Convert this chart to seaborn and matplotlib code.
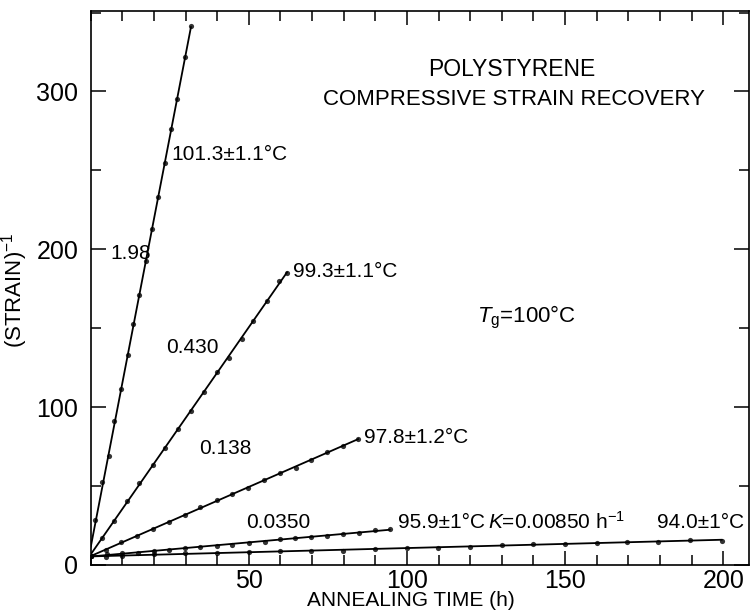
import numpy as np
import pandas as pd
import matplotlib
matplotlib.use("Agg")
import matplotlib.pyplot as plt
import seaborn as sns
from matplotlib.ticker import MultipleLocator

# ---- data ----
t_1013 = [0, 1.4, 3.5, 5.7, 7.5, 9.7, 11.8, 13.4, 15.4, 17.5, 19.5, 21.4, 23.6, 25.4, 27.3, 29.7, 31.7]
y_1013 = [5.9, 28.6, 52.5, 69.2, 91.2, 111.6, 133.1, 152.8, 170.8, 192.4, 212.7, 233.0, 254.6, 276.2, 295.2, 321.7, 341.4]

t_993 = [0, 3.5, 7.5, 11.5, 15.4, 19.6, 23.6, 27.5, 31.7, 35.8, 39.8, 43.8, 47.7, 51.4, 55.8, 59.6, 62.1]
y_993 = [5.9, 17.0, 28.1, 40.4, 51.9, 63.0, 74.3, 86.2, 97.6, 109.4, 122.1, 131.4, 143.3, 154.5, 167.0, 180.1, 185.2]

t_978 = [0, 4.7, 9.7, 14.7, 19.7, 24.7, 29.7, 34.7, 39.8, 44.7, 49.8, 54.7, 59.8, 64.8, 69.8, 74.6, 79.7, 84.6]
y_978 = [5.9, 9.5, 14.2, 18.0, 23.0, 27.1, 31.4, 36.4, 40.8, 44.6, 48.9, 53.8, 58.2, 61.4, 66.7, 71.3, 75.6, 79.8]

t_959 = [0, 5, 10, 14.9, 19.9, 24.9, 29.8, 34.7, 40, 44.6, 49.9, 55, 60, 64.6, 69.8, 74.6, 79.8, 84.9, 89.9, 94.6]
y_959 = [5.9, 6.6, 7.4, 7.8, 9.1, 9.5, 10.4, 11.2, 12.1, 12.7, 13.8, 14.8, 16.3, 16.9, 17.6, 18.6, 19.7, 20.5, 21.8, 22.9]

t_940 = [0, 4.8, 9.8, 19.9, 29.8, 40, 49.9, 60, 69.8, 79.8, 89.9, 99.9, 109.9, 119.9, 130, 140, 150, 160, 169.5, 179.5, 189.6, 199.6]
y_940 = [5.9, 4.9, 5.3, 6.8, 7.4, 7.8, 8.3, 8.5, 8.7, 9.1, 10.0, 10.6, 11.0, 11.6, 12.7, 13.1, 13.1, 13.8, 14.8, 14.4, 15.9, 15.4]

series_names = ["101.3", "99.3", "97.8", "95.9", "94.0"]
series_t = [t_1013, t_993, t_978, t_959, t_940]
series_y = [y_1013, y_993, y_978, y_959, y_940]

df = pd.concat(
    [pd.DataFrame({"t": t, "y": y, "series": n}) for n, t, y in zip(series_names, series_t, series_y)],
    ignore_index=True,
)

# ---- style ----
sns.set_style("ticks")
plt.rcParams["font.family"] = ["Liberation Sans", "DejaVu Sans"]
plt.rcParams["mathtext.fontset"] = "custom"
plt.rcParams["mathtext.rm"] = "Liberation Sans"
plt.rcParams["mathtext.it"] = "Liberation Sans:italic"
plt.rcParams["text.color"] = "black"
plt.rcParams["axes.labelcolor"] = "black"

fig = plt.figure(figsize=(7.5, 6.1), dpi=100)
ax = fig.add_axes([0.121, 0.074, 0.877, 0.908])

for n in series_names:
    sub = df[df["series"] == n]
    sns.regplot(data=sub, x="t", y="y", ax=ax, ci=None, color="black",
                scatter_kws={"s": 14, "zorder": 3, "linewidths": 0},
                line_kws={"lw": 1.3})

ax.set_xlim(0, 208)
ax.set_ylim(0, 351)
ax.xaxis.set_minor_locator(MultipleLocator(10))
ax.yaxis.set_minor_locator(MultipleLocator(50))
ax.set_xticks([50, 100, 150, 200])
ax.set_xticklabels(["50", "100", "150", "200"])
ax.set_yticks([0, 100, 200, 300])
ax.set_yticklabels(["0", "100", "200", "300"])

ax.tick_params(which="both", direction="in", top=True, right=True, width=1.1, labelsize=18, colors="black")
ax.tick_params(axis="y", which="major", length=11, pad=9)
ax.tick_params(axis="x", which="major", length=10, pad=3)
ax.tick_params(which="minor", length=7)
for s in ax.spines.values():
    s.set_linewidth(1.2)
    s.set_color("black")

ax.set_xlabel("ANNEALING TIME (h)", fontsize=15)
ax.set_ylabel("(STRAIN)$^{-1}$", fontsize=16)
ax.xaxis.set_label_coords(0.486, -0.047)
ax.yaxis.set_label_coords(-0.093, 0.495)

fs = 16.5
ax.text(133, 314, "POLYSTYRENE", fontsize=fs, ha="center", va="center")
ax.text(134, 295, "COMPRESSIVE STRAIN RECOVERY", fontsize=fs - 0.5, ha="center", va="center")
ax.text(122, 157, r"$\it{T}_{\rm g}$=100°C", fontsize=16, ha="left", va="center")

ls = 15
ax.text(12.7, 197, "1.98", fontsize=ls, ha="center", va="center")
ax.text(25.6, 260, "101.3±1.1°C", fontsize=ls, ha="left", va="center")
ax.text(63.9, 186, "99.3±1.1°C", fontsize=ls, ha="left", va="center")
ax.text(32, 138, "0.430", fontsize=ls, ha="center", va="center")
ax.text(42.7, 74, "0.138", fontsize=ls, ha="center", va="center")
ax.text(86.4, 81, "97.8±1.2°C", fontsize=ls, ha="left", va="center")
ax.text(59.2, 27, "0.0350", fontsize=ls, ha="center", va="center")
ax.text(97.3, 27, "95.9±1°C", fontsize=ls, ha="left", va="center")
ax.text(125.5, 27, r"$\it{K}$=0.00850 h$^{-1}$", fontsize=ls, ha="left", va="center")
ax.text(179, 27, "94.0±1°C", fontsize=ls, ha="left", va="center")

fig.savefig("out.png", dpi=100)
